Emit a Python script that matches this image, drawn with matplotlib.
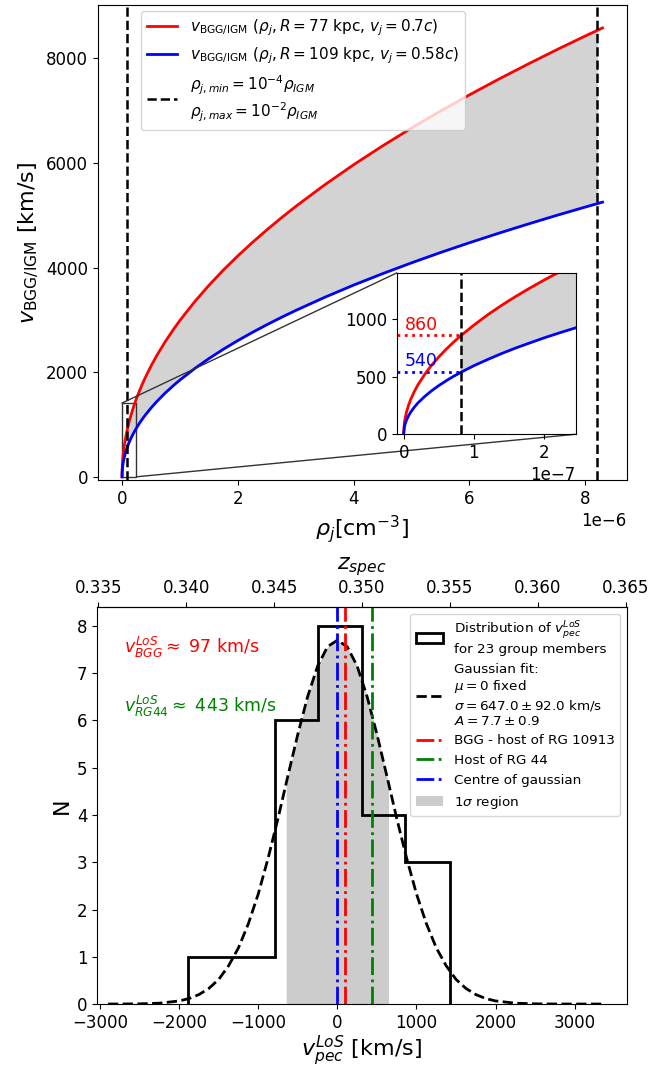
import numpy as np
import matplotlib
matplotlib.use('Agg')
import matplotlib.pyplot as plt
from mpl_toolkits.axes_grid1.inset_locator import mark_inset

plt.rcParams['xtick.labelsize'] = 12
plt.rcParams['ytick.labelsize'] = 12

# ---- top panel: v_BGG/IGM vs jet density ----
rho = np.array([0, 0.001, 0.002, 0.004, 0.007, 0.01, 0.015, 0.02, 0.03, 0.04, 0.05, 0.06, 0.07,
                0.082, 0.1, 0.12, 0.14, 0.16, 0.18, 0.2, 0.22, 0.25, 0.3, 0.35, 0.4, 0.5, 0.6,
                0.75, 0.9, 1, 1.25, 1.5, 1.75, 2, 2.25, 2.5, 2.75, 3, 3.5, 4, 4.5, 5,
                5.5, 6, 6.5, 7, 7.5, 8, 8.2, 8.3]) * 1e-6
v_red = np.array([0, 96, 135, 191, 252, 302, 369, 426, 521, 602, 672, 736, 795,
                  860, 949, 1040, 1123, 1200, 1272, 1341, 1406, 1499, 1641, 1772, 1894, 2117, 2318,
                  2591, 2837, 2990, 3341, 3659, 3952, 4223, 4478, 4719, 4949, 5168, 5581, 5965, 6325, 6666,
                  6990, 7300, 7597, 7882, 8159, 8425, 8529, 8580])
v_blue = np.array([0, 62, 87, 122, 161, 192, 234, 270, 329, 379, 423, 463, 500,
                   540, 596, 651, 703, 751, 795, 838, 878, 935, 1023, 1104, 1179, 1316, 1439,
                   1607, 1758, 1851, 2066, 2260, 2439, 2605, 2760, 2907, 3047, 3180, 3431, 3665, 3883, 4090,
                   4287, 4474, 4654, 4827, 4995, 5156, 5219, 5250])
rho_min = 8.2e-8
rho_max = 8.2e-6
v_red_min = 860
v_blue_min = 540

# ---- bottom panel: peculiar velocities of the group members ----
edges = [-1885, -1340, -790, -241, 310, 857, 1420]
counts = [1, 1, 6, 8, 4, 3]
gauss_v = [-2900, -2750, -2500, -2250, -2000, -1875, -1750, -1625, -1500, -1375, -1250, -1125, -1000,
           -875, -750, -625, -500, -375, -250, -125, 0, 125, 250, 375, 500, 625, 750,
           875, 1000, 1125, 1250, 1375, 1500, 1625, 1750, 1875, 2000, 2250, 2500, 2750, 3000, 3350]
gauss_n = [0.0, 0.001, 0.004, 0.018, 0.065, 0.116, 0.20, 0.33, 0.52, 0.81, 1.19, 1.70, 2.33,
           3.09, 3.93, 4.83, 5.71, 6.51, 7.15, 7.56, 7.70, 7.56, 7.15, 6.51, 5.71, 4.83, 3.93,
           3.09, 2.33, 1.70, 1.19, 0.81, 0.52, 0.33, 0.20, 0.116, 0.065, 0.018, 0.004, 0.001, 0.0, 0.0]
sigma = 647.0
v_centre = 0
v_bgg = 97
v_rg44 = 443
z_group = 0.3486
c_kms = 299792.458
z_ticks = [0.335, 0.340, 0.345, 0.350, 0.355, 0.360, 0.365]

fig = plt.figure(figsize=(6.7, 10.68), dpi=100)

# top panel
ax = fig.add_axes([0.1463, 0.5506, 0.7888, 0.4443])
mask = (rho >= rho_min) & (rho <= rho_max)
ax.fill_between(rho[mask], v_blue[mask], v_red[mask], color='lightgray')
ax.plot(rho, v_red, color='r', lw=2,
        label=r'$v_{\rm BGG/IGM}$ $(\rho_j, R = 77$ kpc, $v_j = 0.7c)$')
ax.plot(rho, v_blue, color='b', lw=2,
        label=r'$v_{\rm BGG/IGM}$ $(\rho_j, R = 109$ kpc, $v_j = 0.58c)$')
ax.axvline(rho_min, color='k', ls='--', lw=1.8,
           label=r'$\rho_{j,min} = 10^{-4}\rho_{IGM}$' + '\n' + r'$\rho_{j,max} = 10^{-2}\rho_{IGM}$')
ax.axvline(rho_max, color='k', ls='--', lw=1.8)
ax.set_ylim(-60, 9010)
ax.set_xlabel(r'$\rho_j$[cm$^{-3}$]', fontsize=16)
ax.set_ylabel(r'$v_{\rm BGG/IGM}$ [km/s]', fontsize=16)
ax.legend(loc='upper left', bbox_to_anchor=(0.081, 0.988), borderaxespad=0, fontsize=11)

# zoomed inset
axins = fig.add_axes([0.5930, 0.5934, 0.2663, 0.1513])
axins.fill_between(rho[mask], v_blue[mask], v_red[mask], color='lightgray')
axins.plot(rho, v_red, color='r', lw=2)
axins.plot(rho, v_blue, color='b', lw=2)
axins.axvline(rho_min, color='k', ls='--', lw=1.8)
axins.set_xlim(-0.09e-7, 2.45e-7)
axins.set_ylim(0, 1405)
axins.hlines(v_red_min, -0.09e-7, rho_min, colors='r', linestyles=':', lw=2)
axins.hlines(v_blue_min, -0.09e-7, rho_min, colors='b', linestyles=':', lw=2)
axins.text(0.02e-7, v_red_min + 15, str(v_red_min), color='r', fontsize=12.5, va='bottom')
axins.text(0.02e-7, v_blue_min + 15, str(v_blue_min), color='b', fontsize=12.5, va='bottom')
axins.set_xticks([0, 1e-7, 2e-7])
axins.set_yticks([0, 500, 1000])
mark_inset(ax, axins, loc1=2, loc2=4, fc='none', ec='0.2', lw=1)

# bottom panel
ax2 = fig.add_axes([0.1452, 0.0599, 0.7899, 0.3717])
xs = np.linspace(-sigma, sigma, 300)
ax2.fill_between(xs, 0, np.interp(xs, gauss_v, gauss_n), color='grey', alpha=0.4, lw=0,
                 label=r'1$\sigma$ region')
ax2.hist(edges[:-1], bins=edges, weights=counts, histtype='step', color='k', lw=2,
         label='Distribution of $v_{pec}^{LoS}$\nfor 23 group members')
ax2.plot(gauss_v, gauss_n, color='k', ls='--', lw=2,
         label='Gaussian fit:\n$\\mu = 0$ fixed\n$\\sigma = 647.0 \\pm 92.0$ km/s\n$A = 7.7 \\pm 0.9$')
ax2.axvline(v_bgg, color='r', ls='-.', lw=2, label='BGG - host of RG 10913')
ax2.axvline(v_rg44, color='g', ls='-.', lw=2, label='Host of RG 44')
ax2.axvline(v_centre, color='b', ls='-.', lw=2, label='Centre of gaussian')
ax2.text(-2700, 7.55, r'$v^{LoS}_{BGG} \approx$ 97 km/s', color='r', fontsize=12.5, va='center')
ax2.text(-2700, 6.3, r'$v^{LoS}_{RG44} \approx$ 443 km/s', color='g', fontsize=12.5, va='center')
ax2.set_xlim(-3035, 3655)
ax2.set_ylim(0, 8.4)
ax2.set_xlabel(r'$v_{pec}^{LoS}$ [km/s]', fontsize=16, labelpad=1)
ax2.set_ylabel('N', fontsize=16)
handles, labels = ax2.get_legend_handles_labels()
order = [1, 2, 3, 4, 5, 0]
ax2.legend([handles[i] for i in order], [labels[i] for i in order], loc='upper right', fontsize=9.7)

secax = ax2.secondary_xaxis('top', functions=(lambda v: z_group + v * (1 + z_group) / c_kms,
                                              lambda z: (z - z_group) * c_kms / (1 + z_group)))
secax.set_xticks(z_ticks)
secax.set_xlabel(r'$z_{spec}$', fontsize=16, labelpad=7)

fig.savefig('out.png', dpi=100)
